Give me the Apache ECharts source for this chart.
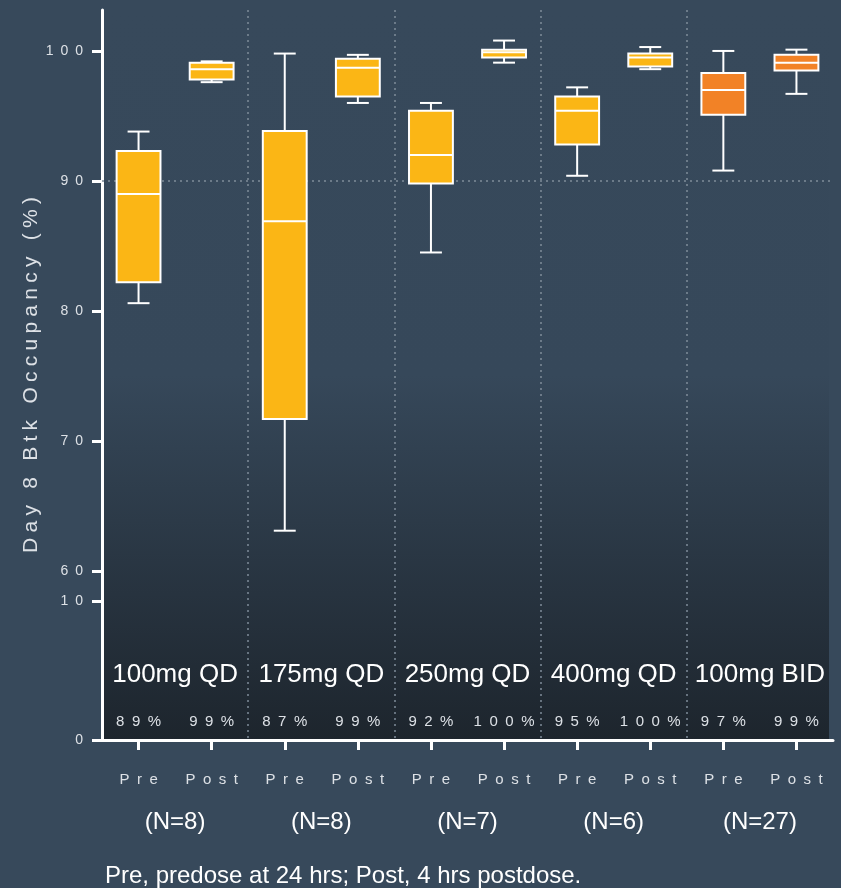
<!DOCTYPE html>
<html>
<head>
<meta charset="utf-8">
<script src="https://cdn.jsdelivr.net/npm/echarts@6/dist/echarts.min.js"></script>
<style>
  html, body { margin: 0; padding: 0; background: #37495b; }
  #chart { width: 841px; height: 888px; }
</style>
</head>
<body>
<div id="chart"></div>
<script>
// Dose groups, each measured before (Pre) and after (Post) dosing
const doses = ['100mg QD', '175mg QD', '250mg QD', '400mg QD', '100mg BID'];
const sampleSizes = [8, 8, 7, 6, 27];
const phases = ['Pre', 'Post'];

// Five-number summaries, dose by dose, Pre then Post
const whiskerLow  = [80.6, 97.6, 63.1, 96.0, 84.5, 99.1, 90.4, 98.6, 90.8, 96.7];
const quartile1   = [82.2, 97.8, 71.7, 96.5, 89.8, 99.5, 92.8, 98.8, 95.1, 98.5];
const medians     = [89.0, 98.6, 86.9, 98.7, 92.0, 99.9, 95.4, 99.5, 97.0, 99.1];
const quartile3   = [92.3, 99.1, 93.85, 99.4, 95.4, 100.1, 96.5, 99.8, 98.3, 99.7];
const whiskerHigh = [93.8, 99.2, 99.8, 99.7, 96.0, 100.8, 97.2, 100.3, 100.0, 100.1];

// Broken value axis: upper panel 60-100+, lower stub 0-10
const upperTicks = [60, 70, 80, 90, 100];
const lowerTicks = [0, 10];
const referenceLevel = 90;

const yTitle = 'Day 8 Btk Occupancy (%)';
const footnote = 'Pre, predose at 24 hrs; Post, 4 hrs postdose.';

// ---- presentation ----
const FONT = '"Liberation Sans", Arial, Helvetica, sans-serif';
const EN = '\u2002';
const QD_FILL = '#fbb615';
const BID_FILL = '#f28226';
const LABEL_GREY = '#dde1e6';
const DOT_GREY = '#7f8c99';
const spaced = (text, gap) => Array.from(String(text)).join(gap);

const boxCategories = doses.flatMap(d => phases.map(p => d + ' ' + p));
const boxData = boxCategories.map((_, i) =>
  [i, whiskerLow[i], quartile1[i], medians[i], quartile3[i], whiskerHigh[i]]);
const fillFor = i => (doses[Math.floor(i / phases.length)].indexOf('BID') >= 0 ? BID_FILL : QD_FILL);

// The separator frame runs one band past the right edge so that its closing
// boundary line falls outside the canvas.
const PLOT_LEFT = 102, PLOT_RIGHT = 8;
const bandWidth = (841 - PLOT_LEFT - PLOT_RIGHT) / boxCategories.length;
const frameCategories = boxCategories.concat(['']);

const chart = echarts.init(document.getElementById('chart'), null, { renderer: 'canvas' });

const plainCategoryAxis = (gridIndex, data, extra) => Object.assign({
  gridIndex, type: 'category', data, position: 'bottom',
  axisLine: { show: false }, axisTick: { show: false },
  splitLine: { show: false }, axisLabel: { show: false }
}, extra);

chart.setOption({
  backgroundColor: '#37495b',
  animation: false,
  title: {
    text: footnote, left: 105, top: 864, padding: 0,
    textStyle: { color: '#ffffff', fontSize: 24, fontWeight: 'normal', fontFamily: FONT }
  },
  graphic: {
    elements: [{
      type: 'rect', silent: true, z: -10,
      shape: { x: 103, y: 10, width: 726, height: 730 },
      style: {
        fill: new echarts.graphic.LinearGradient(0, 0, 0, 1, [
          { offset: 0, color: '#37495b' },
          { offset: 0.5, color: '#36485a' },
          { offset: 1, color: '#1d252d' }
        ])
      }
    }]
  },
  grid: [
    { left: PLOT_LEFT, right: PLOT_RIGHT, top: 10, bottom: 317, outerBoundsMode: 'none' },
    { left: PLOT_LEFT, right: PLOT_RIGHT, top: 601, bottom: 148, outerBoundsMode: 'none' },
    { left: PLOT_LEFT, right: PLOT_RIGHT - bandWidth, top: 10, bottom: 148, outerBoundsMode: 'none' }
  ],
  xAxis: [
    plainCategoryAxis(0, boxCategories, { show: false }),
    // Pre / Post tick labels
    plainCategoryAxis(1, boxCategories, {
      axisLine: { show: true, onZero: false, lineStyle: { color: '#ffffff', width: 3 } },
      axisTick: { show: true, alignWithLabel: true, interval: 0, length: 10,
                  lineStyle: { color: '#ffffff', width: 3 } },
      axisLabel: { show: true, interval: 0, margin: 32, color: LABEL_GREY, fontSize: 15, fontFamily: FONT,
                   formatter: (v, i) => spaced(phases[i % phases.length], EN) }
    }),
    // median percentages inside the lower panel
    plainCategoryAxis(1, boxCategories, {
      axisLabel: { show: true, inside: true, interval: 0, margin: 11, color: LABEL_GREY, fontSize: 15, fontFamily: FONT,
                   formatter: (v, i) => spaced(Math.round(medians[i]) + '%', EN) }
    }),
    // dose group names
    plainCategoryAxis(1, doses, {
      axisLabel: { show: true, inside: true, interval: 0, margin: 52, color: '#ffffff', fontSize: 26, fontFamily: FONT }
    }),
    // group sizes
    plainCategoryAxis(1, doses, {
      axisLabel: { show: true, interval: 0, margin: 70, color: '#ffffff', fontSize: 24, fontFamily: FONT,
                   formatter: (v, i) => '(N=' + sampleSizes[i] + ')' }
    }),
    // dotted separators between dose groups
    plainCategoryAxis(2, frameCategories, {
      splitLine: { show: true, interval: (i) => i > 0 && i < boxCategories.length && i % 2 === 0,
                   lineStyle: { color: DOT_GREY, width: 1.5, type: [2, 4] } }
    })
  ],
  yAxis: [
    {
      gridIndex: 0, type: 'value', min: 60, max: 103.15, interval: 10,
      axisLine: { show: false }, splitLine: { show: false },
      axisTick: { show: true, length: 10, customValues: upperTicks, lineStyle: { color: '#ffffff', width: 3 } },
      axisLabel: { customValues: upperTicks, margin: 19, color: LABEL_GREY, fontSize: 14, fontFamily: FONT,
                   formatter: v => spaced(v, EN) }
    },
    {
      gridIndex: 1, type: 'value', min: 0, max: 10, interval: 10,
      axisLine: { show: false }, splitLine: { show: false },
      axisTick: { show: true, length: 10, customValues: lowerTicks, lineStyle: { color: '#ffffff', width: 3 } },
      axisLabel: { customValues: lowerTicks, margin: 19, color: LABEL_GREY, fontSize: 14, fontFamily: FONT,
                   formatter: v => spaced(v, EN) }
    },
    {
      gridIndex: 2, type: 'value', min: 0, max: 1,
      axisLine: { show: true, lineStyle: { color: '#ffffff', width: 3 } },
      axisTick: { show: false }, axisLabel: { show: false }, splitLine: { show: false },
      name: spaced(yTitle, '\u2005'), nameLocation: 'middle', nameGap: 60,
      nameTextStyle: { color: LABEL_GREY, fontSize: 21, fontFamily: FONT }
    }
  ],
  series: [{
    type: 'custom',
    name: 'Btk occupancy',
    xAxisIndex: 0, yAxisIndex: 0,
    z: 6,
    data: boxData,
    encode: { x: 0, y: [1, 2, 3, 4, 5] },
    renderItem: (params, api) => {
      const idx = api.value(0);
      const band = api.size([1, 0])[0];
      const boxW = band * 0.6;
      const capW = band * 0.3;
      const lowPt = api.coord([idx, api.value(1)]);
      const cx = lowPt[0];
      const yLow = lowPt[1];
      const yQ1 = api.coord([idx, api.value(2)])[1];
      const yMed = api.coord([idx, api.value(3)])[1];
      const yQ3 = api.coord([idx, api.value(4)])[1];
      const yHigh = api.coord([idx, api.value(5)])[1];
      const white = { stroke: '#ffffff', lineWidth: 2 };
      const seg = (x1, y1, x2, y2) => ({ type: 'line', shape: { x1, y1, x2, y2 }, style: white });
      return {
        type: 'group',
        children: [
          seg(cx, yHigh, cx, yQ3),
          seg(cx, yQ1, cx, yLow),
          seg(cx - capW / 2, yHigh, cx + capW / 2, yHigh),
          seg(cx - capW / 2, yLow, cx + capW / 2, yLow),
          {
            type: 'rect',
            shape: { x: cx - boxW / 2, y: yQ3, width: boxW, height: yQ1 - yQ3 },
            style: { fill: fillFor(params.dataIndex), stroke: '#ffffff', lineWidth: 2 }
          },
          seg(cx - boxW / 2, yMed, cx + boxW / 2, yMed)
        ]
      };
    },
    markLine: {
      silent: true, symbol: 'none', z: 1,
      label: { show: false },
      lineStyle: { color: DOT_GREY, width: 1.5, type: [2, 4] },
      data: [{ yAxis: referenceLevel }]
    }
  }]
});
</script>
</body>
</html>
